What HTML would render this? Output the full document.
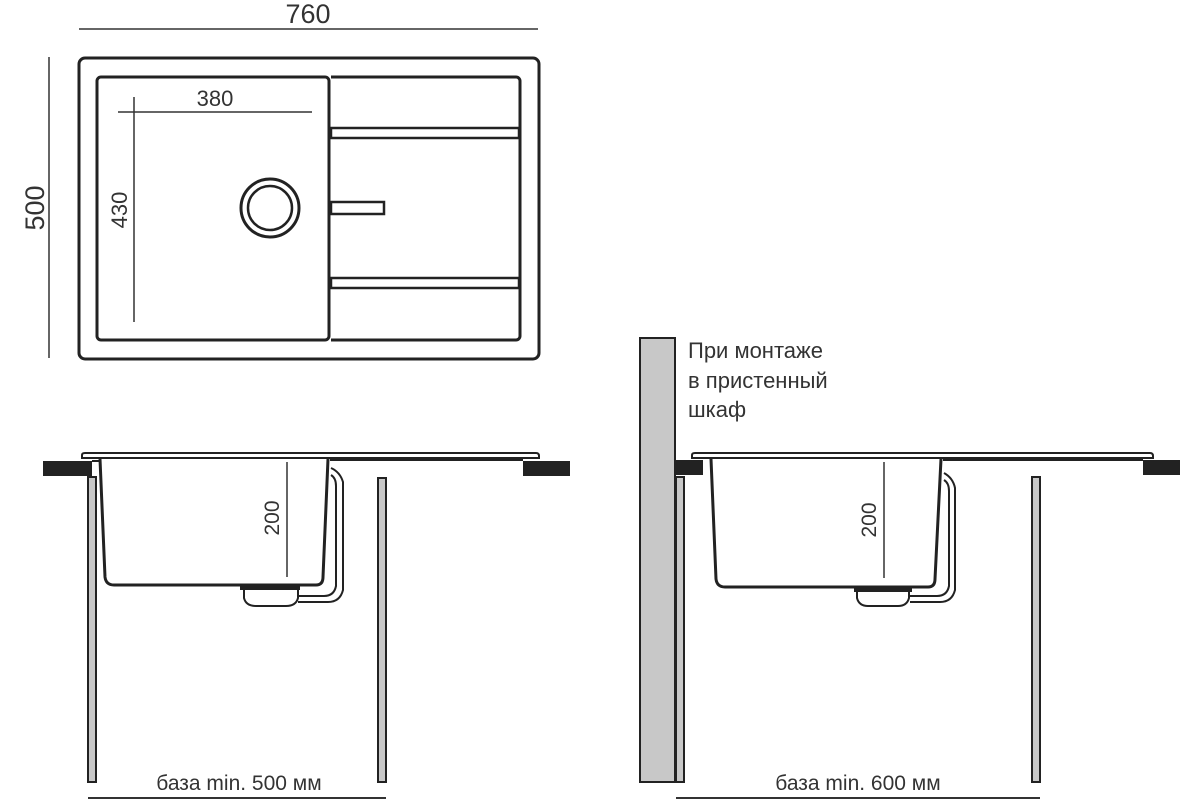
<!DOCTYPE html>
<html><head><meta charset="utf-8"><style>
html,body{margin:0;padding:0;background:#fff;}
svg{display:block;}
text{font-family:"Liberation Sans",sans-serif;fill:#333;}
</style></head><body>
<svg width="1200" height="800" viewBox="0 0 1200 800" xmlns="http://www.w3.org/2000/svg">
<!-- TOP VIEW -->
<line x1="79" y1="29" x2="538" y2="29" stroke="#333" stroke-width="1.5"/>
<text x="308" y="23" font-size="27" text-anchor="middle">760</text>
<line x1="49" y1="57" x2="49" y2="358" stroke="#333" stroke-width="1.5"/>
<text transform="translate(44,208) rotate(-90)" font-size="27" text-anchor="middle">500</text>
<rect x="79" y="58" width="460" height="301" rx="6" fill="none" stroke="#222" stroke-width="3"/>
<rect x="97" y="77" width="232" height="263" rx="4" fill="none" stroke="#222" stroke-width="3"/>
<path d="M331 77 H516 a4 4 0 0 1 4 4 V336 a4 4 0 0 1 -4 4 H331" fill="none" stroke="#222" stroke-width="3"/>
<rect x="331" y="128" width="188" height="10" fill="none" stroke="#222" stroke-width="2.5"/>
<rect x="331" y="278" width="188" height="10" fill="none" stroke="#222" stroke-width="2.5"/>
<rect x="331" y="202" width="53" height="12" fill="none" stroke="#222" stroke-width="2.5"/>
<circle cx="270" cy="208" r="29" fill="none" stroke="#222" stroke-width="3"/>
<circle cx="270" cy="208" r="22" fill="none" stroke="#222" stroke-width="2.5"/>
<line x1="118" y1="112" x2="312" y2="112" stroke="#333" stroke-width="1.5"/>
<line x1="134" y1="97" x2="134" y2="322" stroke="#333" stroke-width="1.5"/>
<text x="215" y="106" font-size="22" text-anchor="middle">380</text>
<text transform="translate(127,210) rotate(-90)" font-size="22" text-anchor="middle">430</text>

<!-- BOTTOM LEFT -->
<rect x="43" y="461" width="49" height="15" fill="#222"/>
<rect x="523" y="461" width="47" height="15" fill="#222"/>
<path d="M82 458 V455 Q82 453 85 453 H536 Q539 453 539 456 V458 Z" fill="#fff" stroke="#222" stroke-width="2"/>
<line x1="92" y1="461" x2="100" y2="461" stroke="#222" stroke-width="2"/>
<line x1="330" y1="460" x2="523" y2="460" stroke="#222" stroke-width="2"/>
<path d="M100 459 L105 577 Q106 585 114 585 H316 Q323 585 323 577 L328 459" fill="none" stroke="#222" stroke-width="3"/>
<rect x="240" y="585" width="60" height="5" fill="#222"/>
<path d="M244 590 V598 Q246 606 256 606 H286 Q296 606 298 598 V590" fill="none" stroke="#222" stroke-width="2"/>
<path d="M331 468 Q340 472 343 482 V590 Q340 602 328 602 H298" fill="none" stroke="#222" stroke-width="2"/>
<path d="M331 475 Q336 478 336 486 V586 Q334 596 324 596 H298" fill="none" stroke="#222" stroke-width="2"/>
<line x1="287" y1="462" x2="287" y2="577" stroke="#333" stroke-width="1.5"/>
<text transform="translate(279,518) rotate(-90)" font-size="21" text-anchor="middle">200</text>
<rect x="88" y="477" width="8" height="305" fill="#c8c8c8" stroke="#222" stroke-width="2"/>
<rect x="378" y="478" width="8" height="304" fill="#c8c8c8" stroke="#222" stroke-width="2"/>
<line x1="88" y1="798" x2="386" y2="798" stroke="#333" stroke-width="2"/>
<text x="239" y="790" font-size="21" text-anchor="middle">база min. 500 мм</text>

<!-- BOTTOM RIGHT -->
<rect x="640" y="338" width="35" height="444" fill="#c8c8c8" stroke="#222" stroke-width="2"/>
<text x="688" y="358" font-size="22">При монтаже</text>
<text x="688" y="388" font-size="22">в пристенный</text>
<text x="688" y="417" font-size="22">шкаф</text>
<rect x="676" y="460" width="27" height="15" fill="#222"/>
<rect x="1143" y="460" width="37" height="15" fill="#222"/>
<path d="M692 458 V455 Q692 453 695 453 H1150 Q1153 453 1153 456 V458 Z" fill="#fff" stroke="#222" stroke-width="2"/>
<line x1="943" y1="460" x2="1143" y2="460" stroke="#222" stroke-width="2"/>
<path d="M711 459 L716 579 Q717 587 725 587 H928 Q935 587 935 579 L941 459" fill="none" stroke="#222" stroke-width="3"/>
<rect x="854" y="587" width="58" height="5" fill="#222"/>
<path d="M857 592 V598 Q859 606 868 606 H898 Q907 606 909 598 V592" fill="none" stroke="#222" stroke-width="2"/>
<path d="M944 473 Q953 478 955 488 V590 Q952 602 940 602 H910" fill="none" stroke="#222" stroke-width="2"/>
<path d="M944 480 Q949 483 949 491 V586 Q947 596 937 596 H910" fill="none" stroke="#222" stroke-width="2"/>
<line x1="884" y1="462" x2="884" y2="578" stroke="#333" stroke-width="1.5"/>
<text transform="translate(876,520) rotate(-90)" font-size="21" text-anchor="middle">200</text>
<rect x="676" y="477" width="8" height="305" fill="#c8c8c8" stroke="#222" stroke-width="2"/>
<rect x="1032" y="477" width="8" height="305" fill="#c8c8c8" stroke="#222" stroke-width="2"/>
<line x1="676" y1="798" x2="1040" y2="798" stroke="#333" stroke-width="2"/>
<text x="858" y="790" font-size="21" text-anchor="middle">база min. 600 мм</text>
</svg>
</body></html>
